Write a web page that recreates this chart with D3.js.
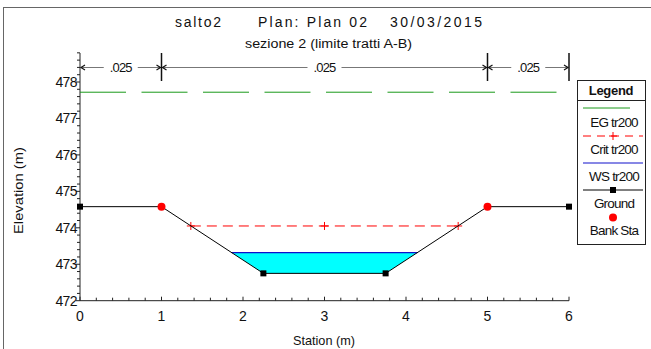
<!DOCTYPE html>
<html>
<head>
<meta charset="utf-8">
<script src="https://cdn.jsdelivr.net/npm/d3@7"></script>
<style>
  body { margin: 0; background: #fff; }
  text { font-family: "Liberation Sans", Arial, sans-serif; fill: #111; }
</style>
</head>
<body>
<div id="canvas"></div>
<script>
// dati sezione
const stations = [0, 1, 2.25, 3.75, 5, 6];
const ground = [474.58, 474.58, 472.75, 472.75, 474.58, 474.58];
const bankSta = [1, 5];
const wsElev = 473.32;
const critStations = [1.36, 3, 4.64];
const critElev = 474.05;
const egElev = 477.72;
const nBreaks = [0, 1, 5, 6];
const nValues = ['.025', '.025', '.025'];
const xTicks = [0, 1, 2, 3, 4, 5, 6];
const yTicks = [472, 473, 474, 475, 476, 477, 478];
const legendItems = ['EG tr200', 'Crit tr200', 'WS tr200', 'Ground', 'Bank Sta'];

const W = 651, H = 349;
const svg = d3.select('#canvas').append('svg')
  .attr('width', W)
  .attr('height', H);

// cornice
svg.append('rect')
  .attr('x', 3.5).attr('y', 7.5)
  .attr('width', 660).attr('height', 360)
  .attr('fill', 'none').attr('stroke', '#666');

const x = d3.scaleLinear().domain([0, 6]).range([80, 569]);
const y = d3.scaleLinear().domain([472, 478]).range([300.7, 82]);
const yTop = 53;

// titolo
svg.append('text').attr('x', 175).attr('y', 27).style('font-size', '14px')
  .attr('textLength', 46).attr('lengthAdjust', 'spacing').text('salto2');
svg.append('text').attr('x', 258).attr('y', 27).style('font-size', '14px')
  .attr('textLength', 109).attr('lengthAdjust', 'spacing').text('Plan: Plan 02');
svg.append('text').attr('x', 390).attr('y', 27).style('font-size', '14px')
  .attr('textLength', 92).attr('lengthAdjust', 'spacing').text('30/03/2015');
svg.append('text').attr('x', 245).attr('y', 48).style('font-size', '12px')
  .attr('textLength', 167).attr('lengthAdjust', 'spacingAndGlyphs')
  .text('sezione 2 (limite tratti A-B)');

// assi
const minorX = d3.range(0, 6.001, 0.2);
svg.append('g').selectAll('line').data(minorX).enter().append('line')
  .attr('x1', d => x(d)).attr('x2', d => x(d))
  .attr('y1', y(472)).attr('y2', (d, i) => y(472) - (i % 5 === 0 ? 4 : 3))
  .attr('stroke', '#222');
const minorY = d3.range(472, 478.81, 0.2);
svg.append('g').selectAll('line').data(minorY).enter().append('line')
  .attr('x1', x(0)).attr('x2', (d, i) => x(0) - (i % 5 === 0 ? 4 : 3))
  .attr('y1', d => y(d)).attr('y2', d => y(d))
  .attr('stroke', '#222');
svg.append('line').attr('x1', x(0)).attr('x2', x(6)).attr('y1', y(472)).attr('y2', y(472)).attr('stroke', '#222');
svg.append('line').attr('x1', x(0)).attr('x2', x(0)).attr('y1', y(472)).attr('y2', yTop).attr('stroke', '#222');

svg.append('g').selectAll('text').data(xTicks).enter().append('text')
  .attr('x', d => x(d)).attr('y', 320.5)
  .attr('text-anchor', 'middle').style('font-size', '14px')
  .text(d => d);
svg.append('g').selectAll('text').data(yTicks).enter().append('text')
  .attr('x', 77).attr('y', d => y(d) + 5)
  .attr('text-anchor', 'end').style('font-size', '14px').style('letter-spacing', '-0.6px')
  .text(d => d);

svg.append('text').attr('x', 293).attr('y', 345)
  .style('font-size', '13px').attr('textLength', 62).attr('lengthAdjust', 'spacingAndGlyphs').text('Station (m)');
svg.append('text').attr('transform', 'translate(23,234) rotate(-90)')
  .style('font-size', '13.5px').attr('textLength', 87).attr('lengthAdjust', 'spacingAndGlyphs').text('Elevation (m)');

// valori di n
const nY = 67.5;
nBreaks.forEach(function(b, i){
  if (i > 0) {
    svg.append('line').attr('x1', x(b)).attr('x2', x(b)).attr('y1', yTop).attr('y2', 81)
      .attr('stroke', '#111').attr('stroke-width', 1.5);
  }
});
nValues.forEach(function(v, i){
  const a = x(nBreaks[i]), b = x(nBreaks[i + 1]);
  const m = (a + b) / 2;
  svg.append('line').attr('x1', a + 1).attr('x2', m - 17).attr('y1', nY).attr('y2', nY).attr('stroke', '#777');
  svg.append('line').attr('x1', m + 17).attr('x2', b - 1).attr('y1', nY).attr('y2', nY).attr('stroke', '#777');
  svg.append('text').attr('x', m).attr('y', nY + 4.5).attr('text-anchor', 'middle')
    .style('font-size', '13px').style('letter-spacing', '-0.8px').text(v);
  svg.append('path').attr('d', `M${a + 5},${nY - 2.5}L${a + 1},${nY}L${a + 5},${nY + 2.5}`)
    .attr('fill', 'none').attr('stroke', '#111').attr('stroke-width', 1.2);
  svg.append('path').attr('d', `M${b - 5},${nY - 2.5}L${b - 1},${nY}L${b - 5},${nY + 2.5}`)
    .attr('fill', 'none').attr('stroke', '#111').attr('stroke-width', 1.2);
});

// energia
svg.append('line').attr('x1', x(0)).attr('x2', x(6)).attr('y1', y(egElev)).attr('y2', y(egElev))
  .attr('stroke', '#1a9a1a').attr('stroke-dasharray', '46,15.5');

// acqua: intersezione del pelo libero con il fondo
const pts = stations.map((s, i) => [s, ground[i]]);
const water = [];
for (let i = 0; i < pts.length - 1; i++) {
  const p = pts[i], q = pts[i + 1];
  if (p[1] < wsElev) water.push(p);
  if ((p[1] - wsElev) * (q[1] - wsElev) < 0) {
    const t = (wsElev - p[1]) / (q[1] - p[1]);
    water.push([p[0] + t * (q[0] - p[0]), wsElev]);
  }
}
const line = d3.line().x(d => x(d[0])).y(d => y(d[1]));
svg.append('path').attr('d', line(water) + 'Z').attr('fill', '#00ffff');
const wsPts = water.filter(d => d[1] === wsElev);
svg.append('path').attr('d', line(wsPts)).attr('stroke', '#1010cc').attr('stroke-width', 1.2).attr('fill', 'none');

// stato critico
svg.append('line').attr('x1', x(critStations[0])).attr('x2', x(critStations[2]))
  .attr('y1', y(critElev)).attr('y2', y(critElev))
  .attr('stroke', '#ff0000').attr('stroke-dasharray', '10,6');
svg.selectAll('.crit').data(critStations).enter().append('path')
  .attr('class', 'crit')
  .attr('d', d => `M${x(d) - 4},${y(critElev)}h8M${x(d)},${y(critElev) - 4}v8`)
  .attr('stroke', '#ff0000');

// fondo
svg.append('path').attr('d', line(pts)).attr('stroke', '#000').attr('fill', 'none');
svg.selectAll('.gpt').data(pts.filter(d => bankSta.indexOf(d[0]) < 0)).enter().append('rect')
  .attr('class', 'gpt')
  .attr('x', d => x(d[0]) - 3).attr('y', d => y(d[1]) - 3)
  .attr('width', 6).attr('height', 6).attr('fill', '#000');
svg.selectAll('.bank').data(bankSta).enter().append('circle')
  .attr('class', 'bank')
  .attr('cx', d => x(d)).attr('cy', d => y(ground[stations.indexOf(d)]))
  .attr('r', 4).attr('fill', '#ff0000');

// legenda
const lg = svg.append('g');
lg.append('rect').attr('x', 577.5).attr('y', 80.5).attr('width', 68).attr('height', 164)
  .attr('fill', '#fff').attr('stroke', '#222');
lg.append('line').attr('x1', 577.5).attr('x2', 645.5).attr('y1', 100.5).attr('y2', 100.5).attr('stroke', '#222');
lg.append('text').attr('x', 611).attr('y', 95).attr('text-anchor', 'middle')
  .style('font-size', '13px').style('font-weight', 'bold').style('letter-spacing', '-0.3px').text('Legend');
const lx1 = 583, lx2 = 643, lcx = 613;
lg.append('line').attr('x1', lx1).attr('x2', 630).attr('y1', 108).attr('y2', 108).attr('stroke', '#1a9a1a');
lg.append('line').attr('x1', lx1).attr('x2', lx2).attr('y1', 136).attr('y2', 136)
  .attr('stroke', '#ff0000').attr('stroke-dasharray', '8,6');
lg.append('path').attr('d', `M${lcx - 4},136h8M${lcx},132v8`).attr('stroke', '#ff0000');
lg.append('line').attr('x1', lx1).attr('x2', lx2).attr('y1', 163).attr('y2', 163).attr('stroke', '#1010cc').attr('stroke-width', 1.2);
lg.append('line').attr('x1', lx1).attr('x2', lx2).attr('y1', 190).attr('y2', 190).attr('stroke', '#000');
lg.append('rect').attr('x', lcx - 3).attr('y', 187).attr('width', 6).attr('height', 6).attr('fill', '#000');
lg.append('circle').attr('cx', lcx).attr('cy', 217.5).attr('r', 4).attr('fill', '#ff0000');
lg.selectAll('.ltxt').data(legendItems).enter().append('text')
  .attr('class', 'ltxt')
  .attr('x', 614).attr('y', (d, i) => 127 + i * 27)
  .attr('text-anchor', 'middle').style('font-size', '13.5px').style('letter-spacing', '-0.8px')
  .text(d => d);
</script>
</body>
</html>
